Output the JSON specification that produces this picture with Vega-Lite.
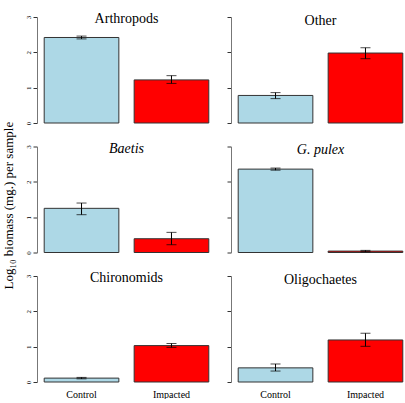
{
  "$schema": "https://vega.github.io/schema/vega-lite/v6.json",
  "padding": {"left": 2, "top": 12, "right": 0, "bottom": 0},
  "background": "white",
  "title": {
    "text": "Log₁₀ biomass (mg.) per sample",
    "orient": "left",
    "anchor": "middle",
    "frame": "bounds",
    "fontSize": 13,
    "baseline": "bottom",
    "offset": -5
  },
  "data": {
    "values": [
      {"taxon": "Arthropods", "group": "Control", "mean": 2.42, "lo": 2.38, "hi": 2.46},
      {"taxon": "Arthropods", "group": "Impacted", "mean": 1.22, "lo": 1.12, "hi": 1.34},
      {"taxon": "Other", "group": "Control", "mean": 0.78, "lo": 0.69, "hi": 0.86},
      {"taxon": "Other", "group": "Impacted", "mean": 1.98, "lo": 1.82, "hi": 2.13},
      {"taxon": "Baetis", "group": "Control", "mean": 1.25, "lo": 1.07, "hi": 1.4},
      {"taxon": "Baetis", "group": "Impacted", "mean": 0.39, "lo": 0.22, "hi": 0.57},
      {"taxon": "G. pulex", "group": "Control", "mean": 2.36, "lo": 2.33, "hi": 2.39},
      {"taxon": "G. pulex", "group": "Impacted", "mean": 0.04, "lo": 0.02, "hi": 0.06},
      {"taxon": "Chironomids", "group": "Control", "mean": 0.11, "lo": 0.09, "hi": 0.13},
      {"taxon": "Chironomids", "group": "Impacted", "mean": 1.03, "lo": 0.98, "hi": 1.09},
      {"taxon": "Oligochaetes", "group": "Control", "mean": 0.4, "lo": 0.31, "hi": 0.51},
      {"taxon": "Oligochaetes", "group": "Impacted", "mean": 1.19, "lo": 1.01, "hi": 1.38}
    ]
  },
  "columns": 2,
  "spacing": {"row": 23.5, "column": 15},
  "align": "each",
  "bounds": "flush",
  "concat": [
    {
      "title": {"text": "Arthropods"},
      "width": 179, "height": 106,
      "transform": [{"filter": "datum.taxon === 'Arthropods'"}],
      "encoding": {"x": {"field": "group", "type": "nominal", "scale": {"paddingInner": 0.17, "paddingOuter": 0.08}, "axis": null}},
      "layer": [
        {"mark": {"type": "bar", "stroke": "#333333", "strokeWidth": 1},
         "encoding": {
           "y": {"field": "mean", "type": "quantitative", "scale": {"domain": [0, 3]}, "axis": {"title": null, "values": [0, 1, 2, 3]}},
           "color": {"field": "group", "type": "nominal", "scale": {"domain": ["Control", "Impacted"], "range": ["#ADD8E6", "#FF0000"]}, "legend": null}}},
        {"mark": {"type": "rule", "color": "black", "strokeWidth": 1},
         "encoding": {"y": {"field": "lo", "type": "quantitative", "axis": {"title": null, "values": [0, 1, 2, 3]}}, "y2": {"field": "hi"}}},
        {"mark": {"type": "tick", "color": "black", "size": 10, "thickness": 1},
         "encoding": {"y": {"field": "lo", "type": "quantitative", "axis": {"title": null, "values": [0, 1, 2, 3]}}}},
        {"mark": {"type": "tick", "color": "black", "size": 10, "thickness": 1},
         "encoding": {"y": {"field": "hi", "type": "quantitative", "axis": {"title": null, "values": [0, 1, 2, 3]}}}}
      ]
    },
    {
      "title": {"text": "Other"},
      "width": 179, "height": 106,
      "transform": [{"filter": "datum.taxon === 'Other'"}],
      "encoding": {"x": {"field": "group", "type": "nominal", "scale": {"paddingInner": 0.17, "paddingOuter": 0.08}, "axis": null}},
      "layer": [
        {"mark": {"type": "bar", "stroke": "#333333", "strokeWidth": 1},
         "encoding": {
           "y": {"field": "mean", "type": "quantitative", "scale": {"domain": [0, 3]}, "axis": {"title": null, "labels": false, "values": [0, 1, 2, 3]}},
           "color": {"field": "group", "type": "nominal", "scale": {"domain": ["Control", "Impacted"], "range": ["#ADD8E6", "#FF0000"]}, "legend": null}}},
        {"mark": {"type": "rule", "color": "black", "strokeWidth": 1},
         "encoding": {"y": {"field": "lo", "type": "quantitative", "axis": {"title": null, "labels": false, "values": [0, 1, 2, 3]}}, "y2": {"field": "hi"}}},
        {"mark": {"type": "tick", "color": "black", "size": 10, "thickness": 1},
         "encoding": {"y": {"field": "lo", "type": "quantitative", "axis": {"title": null, "labels": false, "values": [0, 1, 2, 3]}}}},
        {"mark": {"type": "tick", "color": "black", "size": 10, "thickness": 1},
         "encoding": {"y": {"field": "hi", "type": "quantitative", "axis": {"title": null, "labels": false, "values": [0, 1, 2, 3]}}}}
      ]
    },
    {
      "title": {"text": "Baetis", "fontStyle": "italic"},
      "width": 179, "height": 106,
      "transform": [{"filter": "datum.taxon === 'Baetis'"}],
      "encoding": {"x": {"field": "group", "type": "nominal", "scale": {"paddingInner": 0.17, "paddingOuter": 0.08}, "axis": null}},
      "layer": [
        {"mark": {"type": "bar", "stroke": "#333333", "strokeWidth": 1},
         "encoding": {
           "y": {"field": "mean", "type": "quantitative", "scale": {"domain": [0, 3]}, "axis": {"title": null, "values": [0, 1, 2, 3]}},
           "color": {"field": "group", "type": "nominal", "scale": {"domain": ["Control", "Impacted"], "range": ["#ADD8E6", "#FF0000"]}, "legend": null}}},
        {"mark": {"type": "rule", "color": "black", "strokeWidth": 1},
         "encoding": {"y": {"field": "lo", "type": "quantitative", "axis": {"title": null, "values": [0, 1, 2, 3]}}, "y2": {"field": "hi"}}},
        {"mark": {"type": "tick", "color": "black", "size": 10, "thickness": 1},
         "encoding": {"y": {"field": "lo", "type": "quantitative", "axis": {"title": null, "values": [0, 1, 2, 3]}}}},
        {"mark": {"type": "tick", "color": "black", "size": 10, "thickness": 1},
         "encoding": {"y": {"field": "hi", "type": "quantitative", "axis": {"title": null, "values": [0, 1, 2, 3]}}}}
      ]
    },
    {
      "title": {"text": "G. pulex", "fontStyle": "italic"},
      "width": 179, "height": 106,
      "transform": [{"filter": "datum.taxon === 'G. pulex'"}],
      "encoding": {"x": {"field": "group", "type": "nominal", "scale": {"paddingInner": 0.17, "paddingOuter": 0.08}, "axis": null}},
      "layer": [
        {"mark": {"type": "bar", "stroke": "#333333", "strokeWidth": 1},
         "encoding": {
           "y": {"field": "mean", "type": "quantitative", "scale": {"domain": [0, 3]}, "axis": {"title": null, "labels": false, "values": [0, 1, 2, 3]}},
           "color": {"field": "group", "type": "nominal", "scale": {"domain": ["Control", "Impacted"], "range": ["#ADD8E6", "#FF0000"]}, "legend": null}}},
        {"mark": {"type": "rule", "color": "black", "strokeWidth": 1},
         "encoding": {"y": {"field": "lo", "type": "quantitative", "axis": {"title": null, "labels": false, "values": [0, 1, 2, 3]}}, "y2": {"field": "hi"}}},
        {"mark": {"type": "tick", "color": "black", "size": 10, "thickness": 1},
         "encoding": {"y": {"field": "lo", "type": "quantitative", "axis": {"title": null, "labels": false, "values": [0, 1, 2, 3]}}}},
        {"mark": {"type": "tick", "color": "black", "size": 10, "thickness": 1},
         "encoding": {"y": {"field": "hi", "type": "quantitative", "axis": {"title": null, "labels": false, "values": [0, 1, 2, 3]}}}}
      ]
    },
    {
      "title": {"text": "Chironomids"},
      "width": 179, "height": 106,
      "transform": [{"filter": "datum.taxon === 'Chironomids'"}],
      "encoding": {"x": {"field": "group", "type": "nominal", "scale": {"paddingInner": 0.17, "paddingOuter": 0.08}, "axis": {"title": null, "domain": false, "ticks": false, "labelAngle": 0, "labelFontSize": 10, "labelPadding": 7}}},
      "layer": [
        {"mark": {"type": "bar", "stroke": "#333333", "strokeWidth": 1},
         "encoding": {
           "y": {"field": "mean", "type": "quantitative", "scale": {"domain": [0, 3]}, "axis": {"title": null, "values": [0, 1, 2, 3]}},
           "color": {"field": "group", "type": "nominal", "scale": {"domain": ["Control", "Impacted"], "range": ["#ADD8E6", "#FF0000"]}, "legend": null}}},
        {"mark": {"type": "rule", "color": "black", "strokeWidth": 1},
         "encoding": {"y": {"field": "lo", "type": "quantitative", "axis": {"title": null, "values": [0, 1, 2, 3]}}, "y2": {"field": "hi"}}},
        {"mark": {"type": "tick", "color": "black", "size": 10, "thickness": 1},
         "encoding": {"y": {"field": "lo", "type": "quantitative", "axis": {"title": null, "values": [0, 1, 2, 3]}}}},
        {"mark": {"type": "tick", "color": "black", "size": 10, "thickness": 1},
         "encoding": {"y": {"field": "hi", "type": "quantitative", "axis": {"title": null, "values": [0, 1, 2, 3]}}}}
      ]
    },
    {
      "title": {"text": "Oligochaetes"},
      "width": 179, "height": 106,
      "transform": [{"filter": "datum.taxon === 'Oligochaetes'"}],
      "encoding": {"x": {"field": "group", "type": "nominal", "scale": {"paddingInner": 0.17, "paddingOuter": 0.08}, "axis": {"title": null, "domain": false, "ticks": false, "labelAngle": 0, "labelFontSize": 10, "labelPadding": 7}}},
      "layer": [
        {"mark": {"type": "bar", "stroke": "#333333", "strokeWidth": 1},
         "encoding": {
           "y": {"field": "mean", "type": "quantitative", "scale": {"domain": [0, 3]}, "axis": {"title": null, "labels": false, "values": [0, 1, 2, 3]}},
           "color": {"field": "group", "type": "nominal", "scale": {"domain": ["Control", "Impacted"], "range": ["#ADD8E6", "#FF0000"]}, "legend": null}}},
        {"mark": {"type": "rule", "color": "black", "strokeWidth": 1},
         "encoding": {"y": {"field": "lo", "type": "quantitative", "axis": {"title": null, "labels": false, "values": [0, 1, 2, 3]}}, "y2": {"field": "hi"}}},
        {"mark": {"type": "tick", "color": "black", "size": 10, "thickness": 1},
         "encoding": {"y": {"field": "lo", "type": "quantitative", "axis": {"title": null, "labels": false, "values": [0, 1, 2, 3]}}}},
        {"mark": {"type": "tick", "color": "black", "size": 10, "thickness": 1},
         "encoding": {"y": {"field": "hi", "type": "quantitative", "axis": {"title": null, "labels": false, "values": [0, 1, 2, 3]}}}}
      ]
    }
  ],
  "config": {
    "font": "Liberation Serif",
    "view": {"stroke": null},
    "axis": {
      "grid": false,
      "labelFont": "Liberation Serif",
      "labelColor": "black",
      "titleFont": "Liberation Serif",
      "titleFontWeight": "normal",
      "titleColor": "black"
    },
    "axisY": {
      "domainColor": "#777777",
      "tickColor": "#333333",
      "tickSize": 4,
      "labelFontSize": 7,
      "labelAngle": -90,
      "labelAlign": "center",
      "labelBaseline": "bottom",
      "labelPadding": 2
    },
    "title": {
      "font": "Liberation Serif",
      "fontSize": 14,
      "fontWeight": "normal",
      "color": "black",
      "anchor": "middle",
      "frame": "group",
      "baseline": "alphabetic",
      "offset": -11
    }
  }
}
